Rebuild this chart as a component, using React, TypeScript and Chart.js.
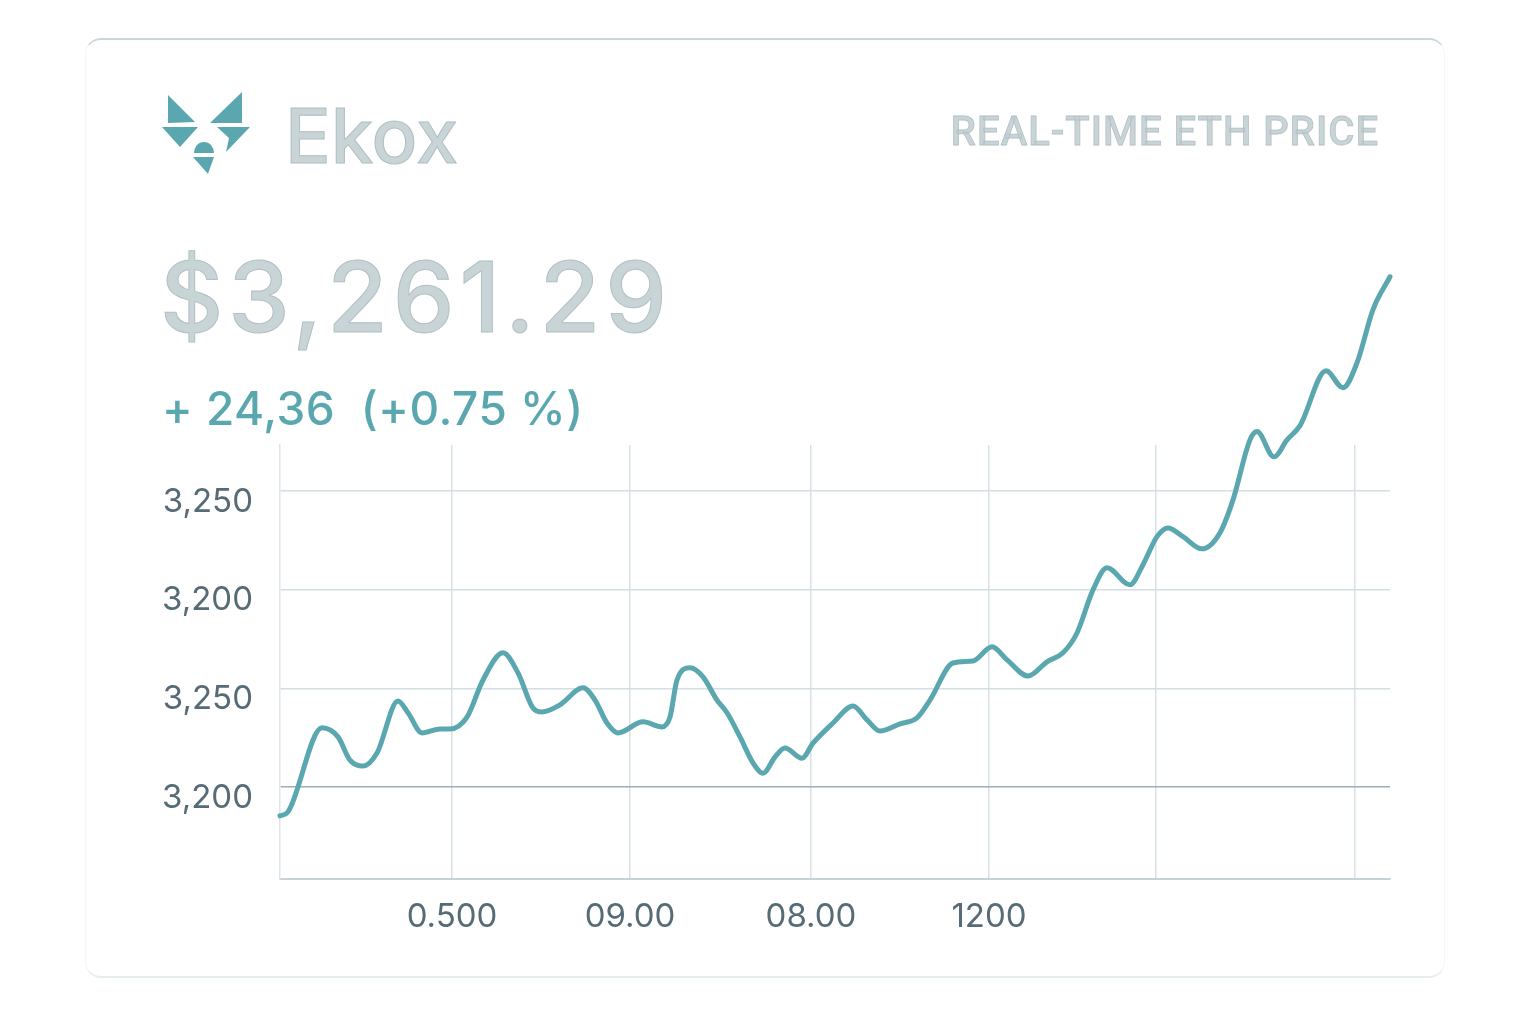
import React, { useEffect, useRef } from "react";
import { Chart, registerables } from "chart.js";

Chart.register(...registerables);

// time position along the window (arbitrary units, 0 = left edge)
const times = [
  0, 0.8, 4.2, 5.8, 7.0, 8.3, 9.7, 11.8, 12.8, 14.2, 16.0, 17.0, 18.7, 20.3, 22.3, 23.8,
  25.3, 26.2, 28.0, 30.3, 31.5, 32.7, 33.8, 36.3, 38.2, 39.0, 39.7, 41.0, 42.3, 43.7,
  44.7, 46.0, 47.3, 48.3, 49.5, 50.5, 52.2, 53.3, 55.3, 57.3, 58.7, 60.0, 62.0, 63.7,
  65.0, 67.3, 69.3, 71.2, 72.7, 74.8, 76.7, 78.3, 79.7, 81.3, 82.7, 85.0, 86.3, 87.7,
  88.8, 90.3, 92.2, 94.0, 95.3, 97.0, 97.7, 99.4, 100.7, 102.0, 104.6, 106.3, 107.7,
  109.3, 111.0,
];
const prices = [
  3192.7, 3193.7, 3215.0, 3212.7, 3206.8, 3205.3, 3208.6, 3221.8, 3218.8, 3213.7, 3214.7,
  3214.7, 3217.7, 3227.1, 3234.0, 3228.9, 3220.0, 3219.0, 3220.8, 3225.1, 3222.0, 3216.2,
  3213.7, 3216.5, 3215.2, 3217.7, 3227.1, 3230.2, 3227.9, 3222.0, 3218.8, 3212.7, 3206.1,
  3203.5, 3207.6, 3209.9, 3207.3, 3211.1, 3216.2, 3220.5, 3217.0, 3214.2, 3216.0, 3217.5,
  3222.0, 3231.4, 3231.9, 3235.5, 3232.2, 3228.1, 3231.7, 3234.0, 3239.0, 3249.9, 3255.5,
  3251.2, 3256.3, 3263.4, 3265.6, 3263.4, 3260.3, 3264.4, 3272.7, 3287.9, 3290.0, 3283.6,
  3287.9, 3291.5, 3305.4, 3301.1, 3307.4, 3320.9, 3329.2,
];

const yTickValues = [3200, 3225, 3250, 3275];
const yTickLabels = ["3,200", "3,250", "3,200", "3,250"];
const xTickValues = [17.2, 35.0, 53.1, 70.9, 87.6, 107.5];
const xTickLabels = ["0.500", "09.00", "08.00", "1200", "", ""];

const headerTitle = "REAL-TIME ETH PRICE";
const brandName = "Ekox";
const priceText = "$3,261.29";
const changeText = "+ 24,36  (+0.75 %)";

const TEAL = "#5aa7af";
const LABEL = "#566b76";
const PALE = "#c9d4d7";

export default function App() {
  const canvasRef = useRef<HTMLCanvasElement | null>(null);

  useEffect(() => {
    const canvas = canvasRef.current;
    if (!canvas) return;
    const chart = new Chart(canvas, {
      type: "line",
      data: {
        datasets: [
          {
            data: times.map((t, i) => ({ x: t, y: prices[i] })),
            borderColor: TEAL,
            borderWidth: 5,
            pointRadius: 0,
            tension: 0.4,
            cubicInterpolationMode: "monotone",
            fill: false,
            clip: false as any,
            borderCapStyle: "round",
            borderJoinStyle: "round",
          },
        ],
      },
      options: {
        animation: false,
        responsive: false,
        events: [],
        layout: { padding: { left: 130, right: 146, top: 445, bottom: 0 } },
        plugins: { legend: { display: false }, tooltip: { enabled: false } },
        scales: {
          x: {
            type: "linear",
            min: 0,
            max: 111,
            afterFit: (s: any) => {
              s.height = 145;
            },
            afterBuildTicks: (s: any) => {
              s.ticks = xTickValues.map((v) => ({ value: v }));
            },
            ticks: {
              autoSkip: false,
              maxRotation: 0,
              padding: 18,
              color: LABEL,
              font: { family: "Inter", size: 33 },
              callback: (v: any, i: number) => xTickLabels[i] ?? "",
            },
            grid: { color: "#d7e1e5", lineWidth: 1.5, drawTicks: false },
            border: { display: true, color: "#c7d2d6", width: 2 },
          },
          y: {
            type: "linear",
            min: 3176.7,
            max: 3286.6,
            afterFit: (s: any) => {
              s.width = 150;
            },
            afterBuildTicks: (s: any) => {
              s.ticks = yTickValues.map((v) => ({ value: v }));
            },
            ticks: {
              padding: 27,
              labelOffset: 11,
              color: LABEL,
              font: { family: "Inter", size: 33 },
              callback: (v: any, i: number) => yTickLabels[i] ?? "",
            },
            grid: {
              drawTicks: false,
              lineWidth: 1.5,
              color: (ctx: any) => (ctx.tick && ctx.tick.value === 3200 ? "#9aaeb4" : "#d4dfe3"),
            },
            border: { display: true, color: "#dde6e9", width: 1.5 },
          },
        },
      },
    });
    return () => chart.destroy();
  }, []);

  return (
    <div style={{ position: "absolute", left: 0, top: 0, width: 1536, height: 1024, background: "#fff", overflow: "hidden" }}>
      <div
        style={{
          position: "absolute",
          left: 85,
          top: 38,
          width: 1360,
          height: 940,
          borderRadius: 16,
          borderTop: "2px solid #c9d6da",
          borderBottom: "2px solid #e6edef",
          borderLeft: "1px solid #f4f6f7",
          borderRight: "1px solid #f4f6f7",
          boxSizing: "border-box",
          background: "#fff",
        }}
      />
      <canvas ref={canvasRef} width={1536} height={1024} style={{ position: "absolute", left: 0, top: 0, width: 1536, height: 1024 }} />
      <svg style={{ position: "absolute", left: 0, top: 0 }} width={300} height={200}>
        <g fill={TEAL}>
          <polygon points="168,95 195,122 168,123" />
          <polygon points="242,92 242,123 210,123" />
          <polygon points="162,127 198,127 180,147" />
          <polygon points="217,127 250,127 226,152 229,138" />
          <path d="M194,153 A10,11 0 0 1 214,153 Z" />
          <polygon points="193,157 214,157 208,174" />
        </g>
      </svg>
      <div
        style={{
          position: "absolute",
          left: 285,
          top: 97,
          fontFamily: "Inter",
          fontWeight: 500,
          fontSize: 76,
          lineHeight: 1,
          color: PALE,
          WebkitTextStroke: "1px #aebec3",
          letterSpacing: 0,
        }}
      >
        {brandName}
      </div>
      <div
        style={{
          position: "absolute",
          right: 1536 - 1379,
          top: 112,
          fontFamily: "Roboto",
          fontWeight: 500,
          fontSize: 40,
          lineHeight: 1,
          color: PALE,
          WebkitTextStroke: "0.8px #b2c1c6",
          whiteSpace: "nowrap",
          letterSpacing: 1,
        }}
      >
        {headerTitle}
      </div>
      <div
        style={{
          position: "absolute",
          left: 160,
          top: 248,
          fontFamily: "Inter",
          fontWeight: 500,
          fontSize: 98,
          lineHeight: 1,
          color: PALE,
          WebkitTextStroke: "1px #b0c0c5",
          whiteSpace: "nowrap",
          letterSpacing: 5,
        }}
      >
        {priceText}
      </div>
      <div
        style={{
          position: "absolute",
          left: 162,
          top: 385,
          fontFamily: "Inter",
          fontWeight: 500,
          fontSize: 46,
          lineHeight: 1,
          color: TEAL,
          whiteSpace: "pre",
          letterSpacing: 0.5,
        }}
      >
        {changeText}
      </div>
    </div>
  );
}
